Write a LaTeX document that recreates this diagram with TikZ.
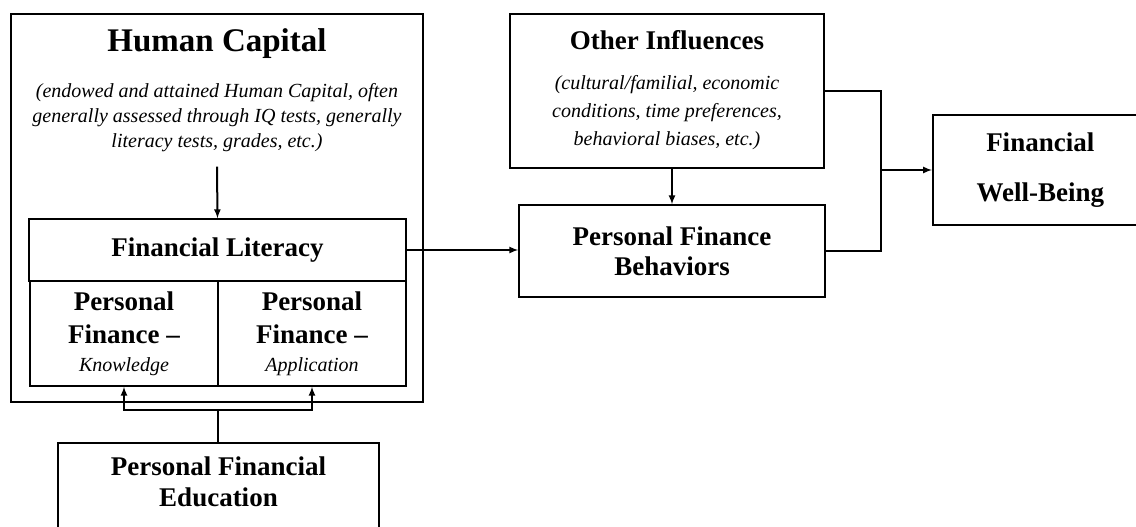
\documentclass[tikz,border=0pt]{standalone}
\usepackage{fontspec}
\setmainfont{Liberation Serif}
\usetikzlibrary{arrows, positioning}
\tikzset{
  box/.style={draw, line width=1.5pt, inner sep=0pt},
  big/.style={font=\bfseries\fontsize{33}{38}\selectfont},
  hdr/.style={font=\bfseries\fontsize{27}{33}\selectfont, align=center},
  note/.style={font=\itshape\fontsize{20}{25}\selectfont, align=center},
  conn/.style={line width=2pt},
  link/.style={line width=2pt, -latex}
}

\begin{document}
\begin{tikzpicture}[x=1pt, y=-1pt]
\path[use as bounding box] (0,0) rectangle (1136,527);
\clip (0,0) rectangle (1136,527);
% human capital block
\node[box, minimum width=412pt, minimum height=388pt] (hc) at (217,208) {};
\node[big] (hctitle) at (217,44) {Human Capital};
\node[note] (hcnote) at (217,118) {(endowed and attained Human Capital, often\\
  generally assessed through IQ tests, generally\\ literacy tests, grades, etc.)};
\node[box, hdr, minimum width=377pt, minimum height=62pt] (fl) at (217.5,250) {Financial Literacy};
\node[box, hdr, minimum width=188pt, minimum height=105pt] (pfk) at (124,333.5)
  {Personal\\ Finance --\\[-5pt] {\mdseries\itshape\fontsize{20}{25}\selectfont Knowledge}};
\node[box, hdr, minimum width=188pt, minimum height=105pt] (pfa) at (312,333.5)
  {Personal\\ Finance --\\[-5pt] {\mdseries\itshape\fontsize{20}{25}\selectfont Application}};
% education
\node[box, minimum width=321pt, minimum height=120pt, anchor=north] (edu) at (218.5,442) {};
\node[hdr] (edutext) at (218.5,482) {Personal Financial\\[-2pt] Education};
% right side
\node[box, minimum width=314pt, minimum height=154pt] (oi) at (667,91) {};
\node[hdr] (oititle) at (667,40) {Other Influences};
\node[note, font=\itshape\fontsize{20}{28}\selectfont] (oinote) at (667,113)
  {(cultural/familial, economic\\ conditions, time preferences,\\ behavioral biases, etc.)};
\node[box, hdr, minimum width=306pt, minimum height=92pt] (pfb) at (672,251) {Personal Finance\\[-3pt] Behaviors};
\node[box, hdr, minimum width=215pt, minimum height=110pt, anchor=west] (fwb) at (932,170)
  {Financial\\[17pt] Well-Being};
\coordinate (fork) at (218,410);
\coordinate (join) at (881,170);
% connectors
\draw[link] ([yshift=-11pt]hcnote.south) -- (fl.north);
\draw[conn] (edu.north -| fork) -- (fork);
\draw[link] (fork) -| (pfk.south);
\draw[link] (fork) -| (pfa.south);
\draw[link] (fl.east) -- (fl.east -| pfb.west);
\draw[link] (pfb.north |- oi.south) -- (pfb.north);
\draw[conn] (oi.east) -| (join);
\draw[conn] (pfb.east) -| (join);
\draw[link] (join) -- (fwb.west);
\end{tikzpicture}
\end{document}
